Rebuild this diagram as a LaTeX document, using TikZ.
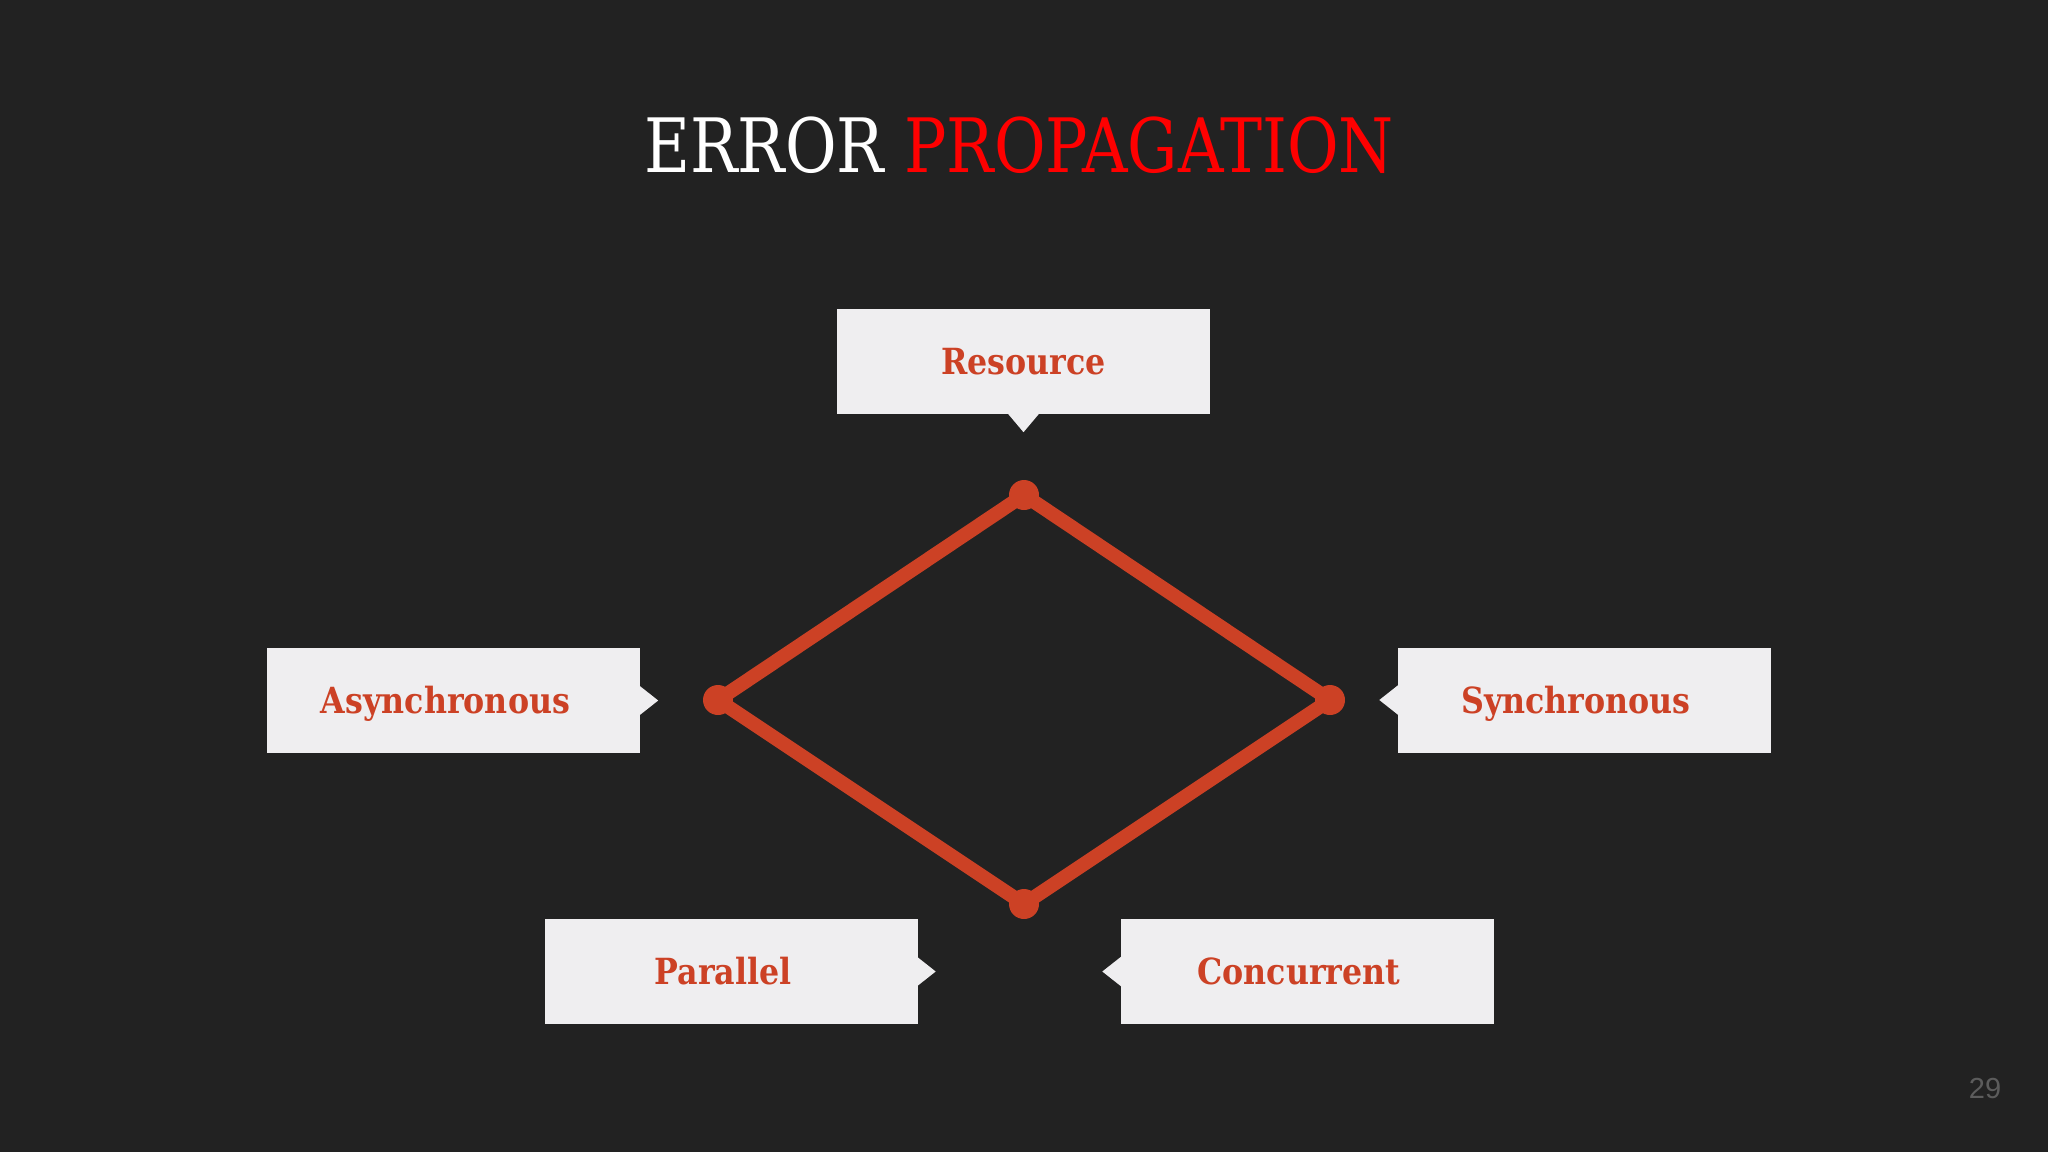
\documentclass[tikz,border=0pt]{standalone}
\usepackage{fontspec}
\setmainfont{DejaVu Serif}
\newfontfamily\numfont{Liberation Sans}
\definecolor{bgc}{HTML}{222222}
\definecolor{boxc}{HTML}{EFEEF0}
\definecolor{accent}{HTML}{CC4125}
\definecolor{titlered}{HTML}{FF0000}
\definecolor{numc}{HTML}{5C5C5C}
\newcommand{\lbl}[2][0pt]{\kern#1\smash{\raisebox{-13pt}{\scalebox{0.88}[1]{\fontsize{36}{40}\selectfont\bfseries\color{accent}#2}}}}
\tikzset{
  box/.style={fill=boxc, minimum width=373pt, minimum height=105pt, inner sep=0pt},
  tip/.style={fill=boxc},
  dot/.style={circle, fill=accent, minimum size=30pt, inner sep=0pt},
  diam/.style={draw=accent, line width=14pt, line join=round}
}
\begin{document}
\begin{tikzpicture}[x=1pt,y=-1pt]
\fill[bgc] (0,0) rectangle (2048,1152);
\useasboundingbox (0,0) rectangle (2048,1152);
% title
\node[anchor=base, inner sep=0pt] (title) at (1019,172)
  {\scalebox{0.84}[1]{\fontsize{75}{80}\selectfont\color{white}ERROR \color{titlered}PROPAGATION}};
% boxes
\node[box] (res) at (1023.5,361.5) {\lbl{Resource}};
\node[box] (async) at (453.5,700.5) {\lbl[-16pt]{Asynchronous}};
\node[box] (sync) at (1584,700) {\lbl[-16pt]{Synchronous}};
\node[box] (par) at (731,971.5) {\lbl[-16pt]{Parallel}};
\node[box] (conc) at (1307,971.5) {\lbl[-16pt]{Concurrent}};
% pointers
\fill[tip] ([xshift=-16pt,yshift=1pt]res.south) -- ([yshift=-18pt]res.south) -- ([xshift=16pt,yshift=1pt]res.south) -- cycle;
\fill[tip] ([xshift=-1pt,yshift=15pt]async.east) -- ([xshift=18pt]async.east) -- ([xshift=-1pt,yshift=-15pt]async.east) -- cycle;
\fill[tip] ([xshift=1pt,yshift=15pt]sync.west) -- ([xshift=-18pt]sync.west) -- ([xshift=1pt,yshift=-15pt]sync.west) -- cycle;
\fill[tip] ([xshift=-1pt,yshift=15pt]par.east) -- ([xshift=18pt]par.east) -- ([xshift=-1pt,yshift=-15pt]par.east) -- cycle;
\fill[tip] ([xshift=1pt,yshift=15pt]conc.west) -- ([xshift=-18pt]conc.west) -- ([xshift=1pt,yshift=-15pt]conc.west) -- cycle;
% diamond
\node[dot] (dt) at (1024,495) {};
\node[dot] (dl) at (718,700) {};
\node[dot] (dr) at (1330,700) {};
\node[dot] (db) at (1024,904) {};
\draw[diam] (dt.center) -- (dr.center) -- (db.center) -- (dl.center) -- cycle;
% page number
\node[inner sep=0pt] (pnum) at (1985,1088) {\numfont\fontsize{29}{32}\selectfont\color{numc}29};
\end{tikzpicture}
\end{document}
